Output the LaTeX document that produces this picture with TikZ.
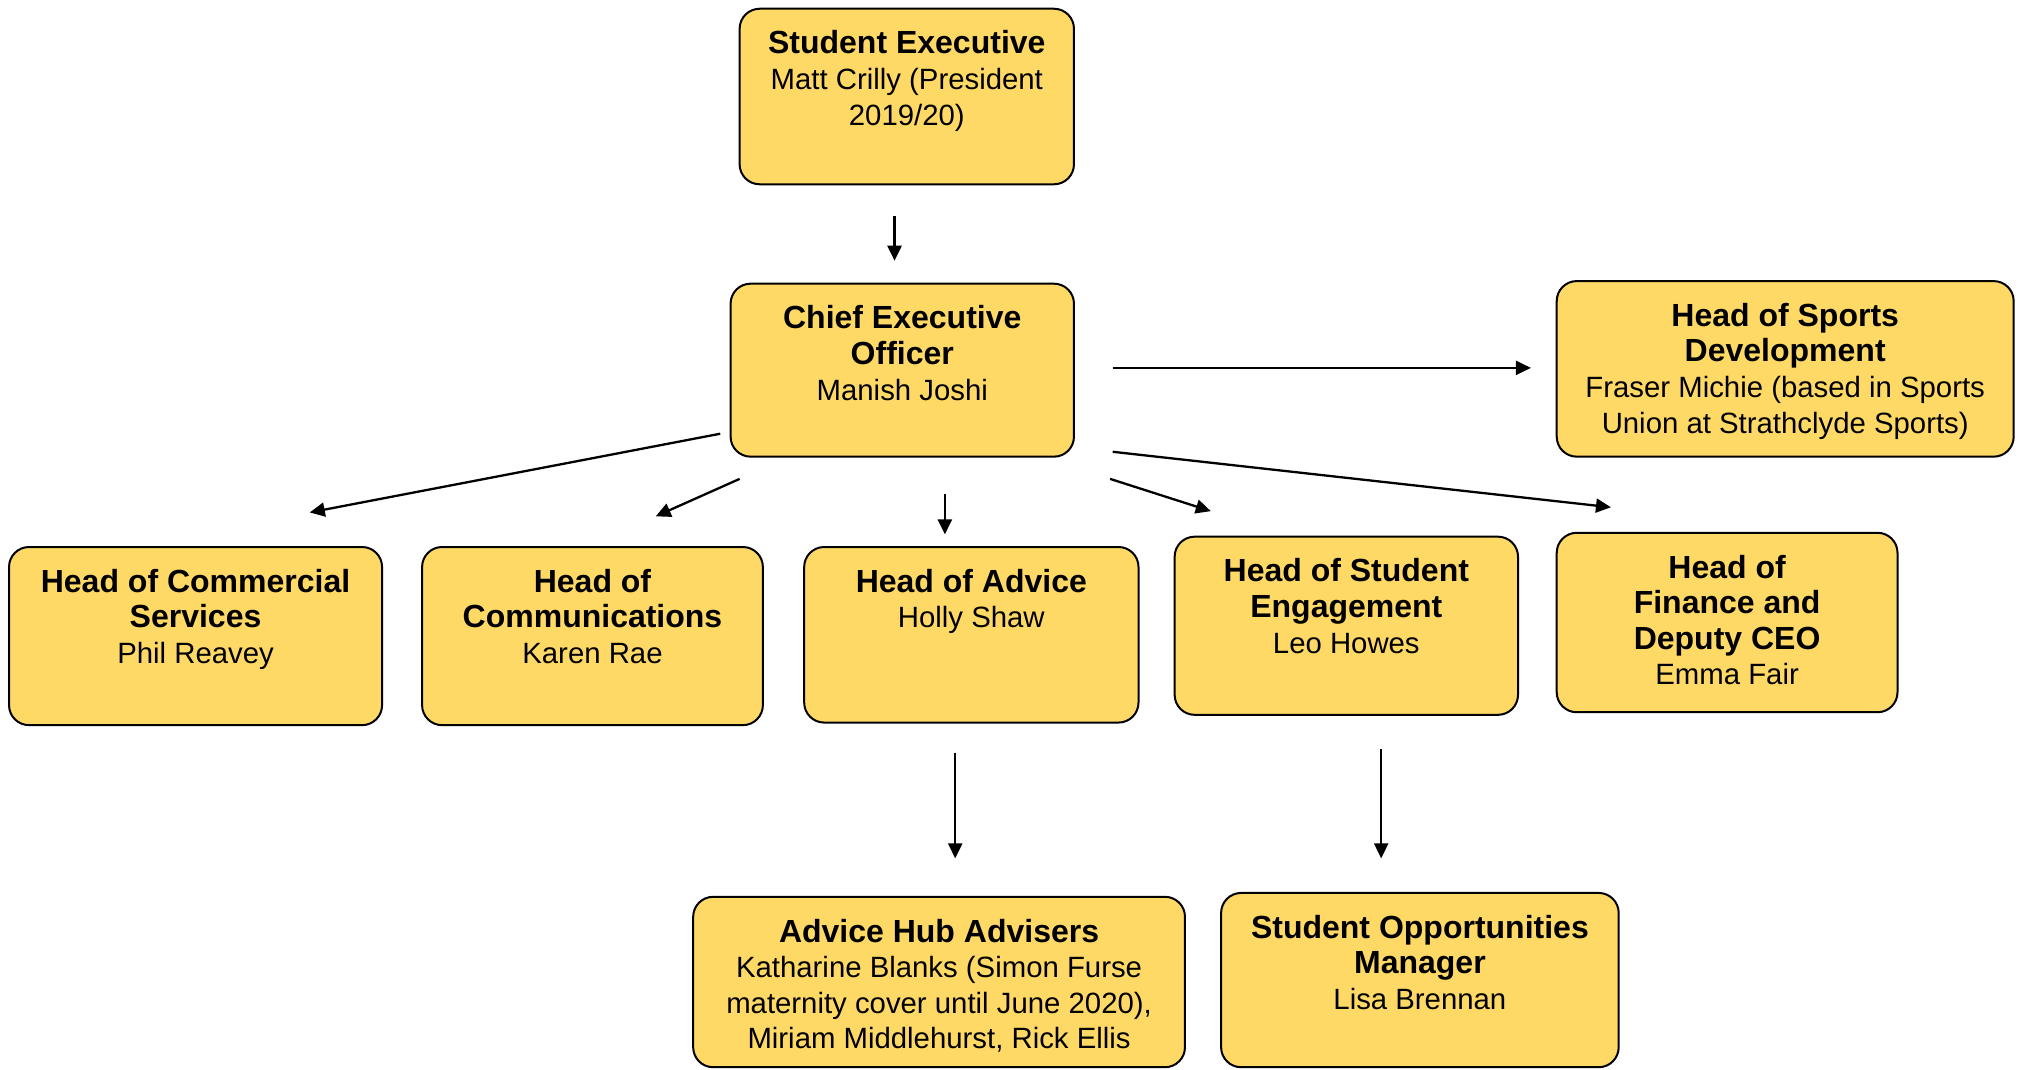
\documentclass[tikz,border=0pt]{standalone}
\usepackage{fontspec}
\setmainfont{Liberation Sans}
\usetikzlibrary{arrows.meta}
\definecolor{boxyellow}{HTML}{FFD966}
\newdimen\uu \uu=0.6454pt
\newcommand{\orgbox}[3]{\parbox[c][#2\uu][t]{#1\uu}{\fontsize{14.67}{17.8}\selectfont\centering\rule{0pt}{22.6pt}#3\par}}
\newcommand{\bt}[1]{{\fontsize{16}{17.8}\selectfont\bfseries #1}}
\newcommand{\rt}[1]{{#1}}
\tikzset{
  orgnode/.style={draw=black, fill=boxyellow, line width=1pt, rounded corners=10pt, inner sep=0pt, anchor=north},
  conn/.style={line width=1.15pt, -{Triangle[length=7.5pt,width=7pt]}}
}
\begin{document}
\begin{tikzpicture}[x=0.6454pt,y=-0.6454pt]
\useasboundingbox (0,0) rectangle (1568,828.2);
% boxes
\node[orgnode] (se) at (702.5,6) {\orgbox{259}{136}{\bt{Student Executive}\\\rt{Matt Crilly (President\\2019/20)}}};
\node[orgnode] (ceo) at (699,219) {\orgbox{266}{134}{\bt{Chief Executive\\Officer}\\\rt{Manish Joshi}}};
\node[orgnode] (sport) at (1383,217) {\orgbox{354}{136}{\bt{Head of Sports\\Development}\\\rt{Fraser Michie (based in Sports\\Union at Strathclyde Sports)}}};
\node[orgnode] (comm) at (151.5,423) {\orgbox{289}{138}{\bt{Head of Commercial\\Services}\\\rt{Phil Reavey}}};
\node[orgnode] (cmn) at (459,423) {\orgbox{264}{138}{\bt{Head of\\Communications}\\\rt{Karen Rae}}};
\node[orgnode] (adv) at (752.5,423) {\orgbox{259}{136}{\bt{Head of Advice}\\\rt{Holly Shaw}}};
\node[orgnode] (eng) at (1043,415) {\orgbox{266}{138}{\bt{Head of Student\\Engagement}\\\rt{Leo Howes}}};
\node[orgnode] (fin) at (1338,412) {\orgbox{264}{139}{\bt{Head of\\Finance and\\Deputy CEO}\\\rt{Emma Fair}}};
\node[orgnode] (hub) at (727.5,694) {\orgbox{381}{132}{\bt{Advice Hub Advisers}\\\rt{Katharine Blanks (Simon Furse\\maternity cover until June 2020),\\Miriam Middlehurst, Rick Ellis}}};
\node[orgnode] (opp) at (1100,691) {\orgbox{308}{135}{\bt{Student Opportunities\\Manager}\\\rt{Lisa Brennan}}};
% connector end points
\coordinate (se-s) at (693,167);   \coordinate (ceo-n) at (693,202);
\coordinate (ceo-e) at (862,285);  \coordinate (sport-w) at (1186,285);
\coordinate (ceo-c1) at (558,336); \coordinate (comm-n) at (240,397);
\coordinate (ceo-c2) at (573,371); \coordinate (cmn-n) at (508,400);
\coordinate (ceo-c3) at (732,383); \coordinate (adv-n) at (732,414);
\coordinate (ceo-c4) at (860,371); \coordinate (eng-n) at (938,396);
\coordinate (ceo-c5) at (862,350); \coordinate (fin-n) at (1248,393);
\coordinate (adv-s) at (740,583);  \coordinate (hub-n) at (740,665);
\coordinate (eng-s) at (1070,580); \coordinate (opp-n) at (1070,665);
% connectors
\draw[conn] (se-s) -- (ceo-n);
\draw[conn] (ceo-e) -- (sport-w);
\draw[conn] (ceo-c1) -- (comm-n);
\draw[conn] (ceo-c2) -- (cmn-n);
\draw[conn] (ceo-c3) -- (adv-n);
\draw[conn] (ceo-c4) -- (eng-n);
\draw[conn] (ceo-c5) -- (fin-n);
\draw[conn] (adv-s) -- (hub-n);
\draw[conn] (eng-s) -- (opp-n);
\end{tikzpicture}
\end{document}
